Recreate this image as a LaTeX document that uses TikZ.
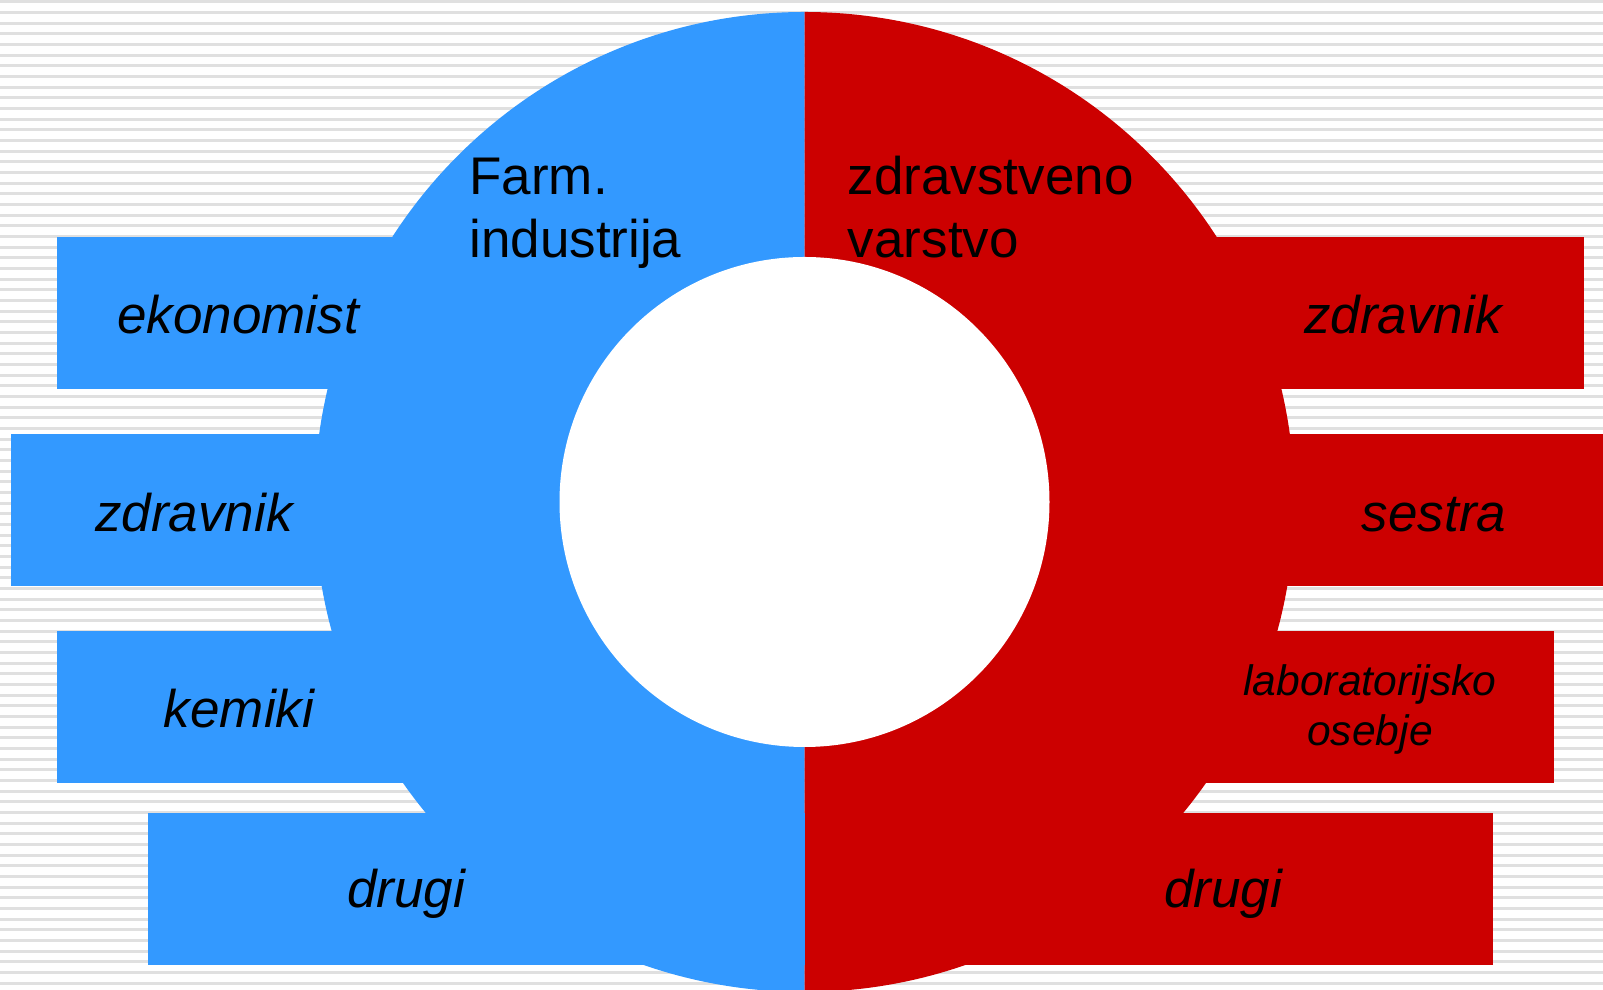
\documentclass[tikz,border=0pt]{standalone}
\usepackage{fontspec}
\setmainfont{Liberation Sans}
\definecolor{PharmBlue}{HTML}{3399FF}
\definecolor{CareRed}{HTML}{CC0000}
\definecolor{StripeGray}{HTML}{E0E0E0}
\tikzset{
  bluebar/.style={fill=PharmBlue},
  redbar/.style={fill=CareRed},
  rolelabel/.style={anchor=base, inner sep=0pt, text=black, font=\fontsize{26.5}{31.7}\selectfont\itshape},
  smallrole/.style={rolelabel, align=center, font=\fontsize{21.3}{25}\selectfont\itshape},
  sectortitle/.style={anchor=base west, inner sep=0pt, align=left, text=black, font=\fontsize{26.5}{31.7}\selectfont}
}

\begin{document}
\begin{tikzpicture}[x=0.5pt,y=0.5pt]
\useasboundingbox (0,0) rectangle (1603,990);
\fill[white] (0,0) rectangle (1603,990);
\foreach \k in {0,...,92}
  \draw[StripeGray, line width=1.5pt] (0,{988.3-10.67*\k}) -- (1603,{988.3-10.67*\k});

% two halves of the ring
\fill[bluebar] (804.5,488) -- (804.5,978) arc[start angle=90, end angle=270, radius=490] -- cycle;
\fill[redbar] (804.5,488) -- (804.5,978) arc[start angle=90, end angle=-90, radius=490] -- cycle;

% bars
\fill[bluebar] (57,601) rectangle (430,753);
\fill[bluebar] (11,404) rectangle (400,556);
\fill[bluebar] (57,207) rectangle (430,359);
\fill[bluebar] (148,25) rectangle (804.5,177);
\fill[redbar] (1180,601) rectangle (1583.5,753);
\fill[redbar] (1180,404) rectangle (1603,556);
\fill[redbar] (1180,207) rectangle (1554,359);
\fill[redbar] (804.5,25) rectangle (1492.6,177);

\fill[white] (804.5,488) circle[radius=245];

\node[sectortitle] (farm) at (469,732) {Farm.\\industrija};
\node[sectortitle] (care) at (847.5,732) {zdravstveno\\varstvo};

\node[rolelabel] (ekon) at (238,656) {ekonomist};
\node[rolelabel] (zdrl) at (194,458) {zdravnik};
\node[rolelabel] (kem) at (239,262) {kemiki};
\node[rolelabel] (drul) at (406,82) {drugi};
\node[rolelabel] (zdrr) at (1403,656) {zdravnik};
\node[rolelabel] (ses) at (1434,458) {sestra};
\node[smallrole] (lab) at (1370,244) {laboratorijsko\\osebje};
\node[rolelabel] (drur) at (1223,82) {drugi};
\end{tikzpicture}
\end{document}
